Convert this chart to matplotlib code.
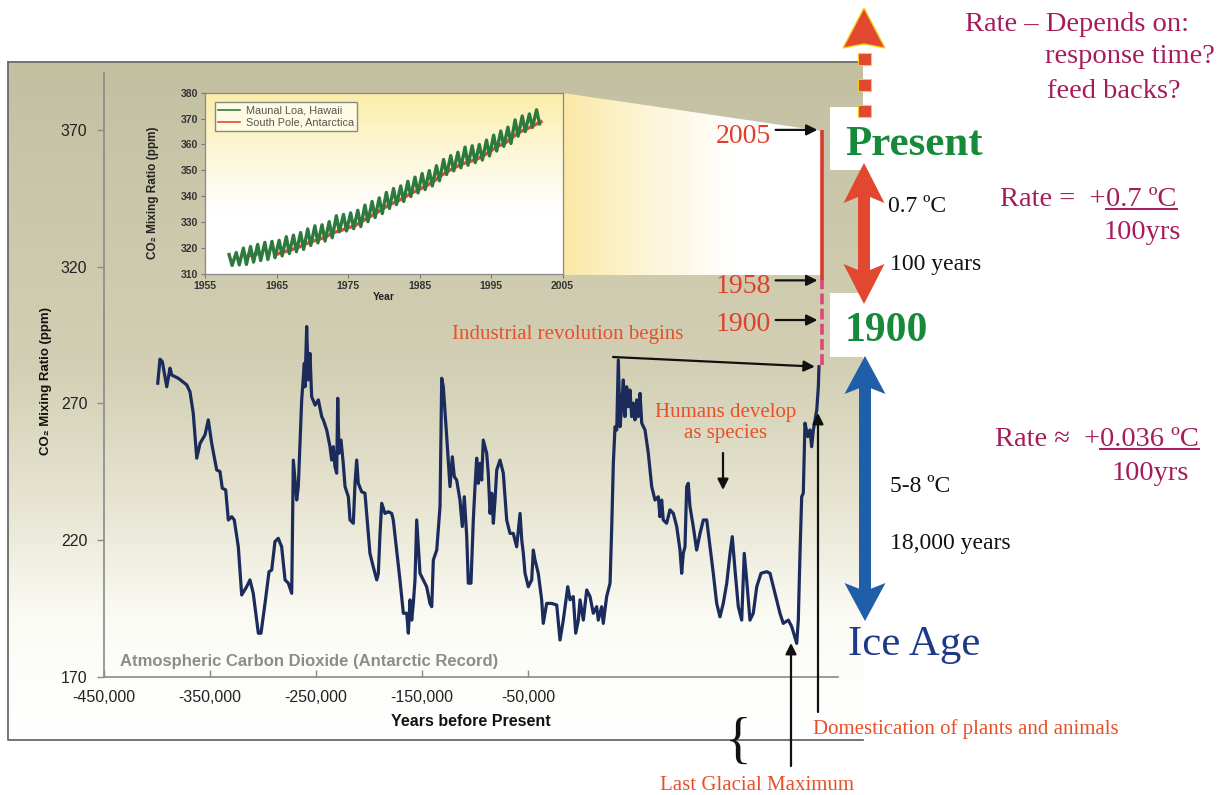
import numpy as np
import matplotlib
matplotlib.use('Agg')
import matplotlib.pyplot as plt
from matplotlib.patches import Rectangle, Polygon
from matplotlib.colors import LinearSegmentedColormap

# ---------------- data ----------------
# Antarctic (Vostok) CO2 record, x in thousands of years in the chart's labelled axis units
vostok_kyr = [-399.3, -397.2, -395.0, -390.8, -387.7, -386.1, -379.9, -372.0, -368.9, -365.8,
              -362.5, -359.4, -354.7, -351.6, -348.4, -343.7, -340.6, -338.4, -335.2, -332.7,
              -329.5, -327.1, -323.3, -320.1, -315.4, -312.3, -309.2, -304.4, -301.9, -298.1,
              -294.3, -291.8, -288.7, -285.6, -282.4, -279.2, -276.1, -272.9, -271.4, -268.2,
              -266.7, -263.5, -261.0, -260.4, -258.8, -257.3, -255.7, -254.1, -250.9,
              -247.8, -244.6, -243.1, -239.9, -236.8, -235.2, -233.7, -232.1, -230.5, -229.5,
              -228.3, -226.4, -224.3, -222.6, -219.5, -217.9, -214.8, -213.2, -211.6, -210.1,
              -206.9, -203.8, -200.7, -199.1, -196.0, -192.7, -191.2, -189.6, -188.0, -184.9,
              -181.8, -178.6, -177.1, -173.9, -170.8, -167.6, -164.4, -162.9, -161.3, -159.7,
              -158.2, -156.6, -155.0, -151.9, -148.8, -145.6, -142.5, -140.8, -139.3, -136.1,
              -133.0, -131.4, -129.9, -126.7, -123.6, -121.4, -119.5, -117.3, -114.2, -112.0,
              -110.1, -107.8, -106.3, -103.8, -101.6, -100.0, -98.4, -96.9, -95.3, -93.7, -92.2,
              -89.0, -87.5, -85.8, -84.2, -82.7, -81.1, -79.5, -76.4, -73.3, -70.1,
              -67.0, -63.9, -60.7, -57.5, -55.9, -54.4, -52.8, -49.7, -46.5, -45.0,
              -43.4, -40.3, -37.1, -35.6, -32.4, -27.6, -22.9, -19.8, -16.7, -12.5,
              -10.4, -7.3, -5.0, -2.5, -0.9, 2.2, 5.4, 8.5, 11.6, 14.8,
              16.3, 19.5, 21.0, 24.2, 27.4, 29.0, 30.5, 32.1, 33.7, 35.2,
              36.8, 38.4, 39.9, 41.5, 43.1, 44.6, 46.2, 47.8, 49.3, 50.9,
              52.5, 54.0, 55.7, 57.3, 60.4, 63.5, 66.7, 69.8,
              72.9, 74.5, 76.1, 77.6, 80.8, 83.9, 87.1, 90.3, 93.4, 95.0,
              96.5, 98.1, 99.7, 101.2, 102.8, 105.9, 109.1, 112.3, 115.4, 118.6,
              121.7, 124.8, 128.0, 131.1, 134.2, 137.5, 140.6, 142.7, 145.3, 148.4,
              151.6, 154.0, 156.3, 159.4, 162.5, 165.8, 169.8, 175.2, 178.3, 183.0,
              187.7, 190.8, 195.6, 198.8, 203.5, 205.0, 206.6, 208.2, 209.7, 211.3,
              213.9, 216.0, 217.6, 219.2, 220.8, 222.4, 223.9, 224.5]
vostok_co2 = [277.4, 286.2, 285.3, 276.1, 282.9, 280.4, 279.2, 276.8, 274.3, 266.4,
              250.0, 255.4, 258.5, 264.0, 255.4, 245.7, 245.1, 239.0, 238.4, 227.4,
              228.6, 227.4, 217.6, 200.0, 203.0, 205.5, 200.6, 186.0, 186.0, 196.9,
              208.5, 209.1, 219.5, 220.7, 217.6, 205.5, 204.3, 200.6, 249.3, 234.7,
              239.6, 271.3, 284.7, 276.1, 298.1, 278.6, 288.3, 272.5, 269.4,
              271.3, 265.2, 264.0, 260.3, 254.2, 249.3, 254.2, 246.9, 244.5, 271.9,
              251.8, 256.6, 248.1, 239.6, 235.9, 227.4, 226.2, 240.8, 249.3, 240.8,
              237.7, 237.2, 222.5, 215.2, 210.3, 205.5, 207.9, 222.5, 233.5, 229.8,
              230.4, 229.8, 227.4, 216.4, 205.5, 193.3, 193.3, 186.0, 198.2, 190.8,
              196.9, 205.5, 227.4, 207.9, 205.5, 203.0, 196.9, 195.7, 212.8, 216.4,
              232.3, 279.2, 276.1, 257.9, 239.6, 250.5, 243.2, 242.0, 234.7, 225.0,
              235.9, 221.3, 204.3, 204.3, 227.4, 239.6, 250.0, 240.8, 248.1, 242.0, 256.6,
              251.8, 244.5, 229.8, 237.2, 226.2, 234.7, 245.7, 249.3, 244.5, 227.4,
              222.5, 222.5, 217.6, 229.8, 220.1, 215.2, 207.9, 203.0, 205.5, 216.4,
              212.8, 207.9, 198.2, 189.6, 196.9, 196.9, 196.3, 183.5, 190.8, 203.0,
              198.2, 199.4, 186.0, 190.8, 198.2, 190.8, 201.8, 199.4, 193.3, 195.7,
              190.8, 195.7, 189.6, 199.4, 204.3, 225.0, 248.1, 261.5, 260.3, 285.9,
              261.5, 268.8, 278.6, 265.2, 276.1, 268.8, 274.9, 265.2, 270.1, 264.0,
              271.3, 265.2, 273.7, 262.8, 260.3, 251.8, 239.6, 234.7,
              235.9, 228.6, 234.7, 227.4, 226.2, 231.1, 229.8, 225.0, 216.4, 207.9,
              215.2, 217.6, 239.6, 240.8, 232.3, 225.0, 216.4, 222.5, 227.4, 227.4,
              217.6, 207.9, 196.9, 192.0, 196.9, 204.3, 215.2, 221.3, 209.1, 195.7,
              190.8, 215.2, 205.5, 190.8, 193.3, 203.0, 207.9, 208.5, 207.9, 200.6,
              193.3, 189.6, 190.8, 188.4, 182.3, 190.8, 215.2, 235.9, 237.2, 262.8,
              257.9, 260.3, 254.2, 260.3, 264.0, 267.6, 276.1, 283.4]

xtick_kyr = [-450, -350, -250, -150, -50]
xtick_labels = ['-450,000', '-350,000', '-250,000', '-150,000', '-50,000']
ytick_vals = [170, 220, 270, 320, 370]

# modern record drawn at "present" on the main chart
present_kyr = 227.0
modern_solid_co2 = [315.0, 370.0]     # 1958 - 2005
modern_dashed_co2 = [284.0, 315.0]    # 1900 - 1958
marker_years = ['2005', '1958', '1900']
marker_co2 = [370.0, 315.0, 300.5]

# inset: Mauna Loa (May peaks, October troughs) and South Pole
ml_years = list(range(1958, 2002))
ml_may_peak = [317.5, 318.3, 320.0, 320.6, 321.4, 322.2, 322.6, 323.0, 324.4, 325.0,
               326.0, 327.4, 328.6, 329.0, 330.2, 332.5, 333.0, 333.6, 334.6, 336.6,
               338.0, 339.4, 341.5, 343.0, 344.0, 345.8, 347.4, 348.8, 349.9, 351.8,
               354.2, 355.7, 357.0, 359.0, 359.5, 360.0, 361.7, 363.6, 365.2, 366.7,
               369.5, 371.0, 371.8, 373.4]
ml_oct_trough = [313.3, 313.5, 313.7, 314.6, 315.2, 315.6, 316.3, 317.0, 317.9, 318.6,
                 319.5, 321.0, 322.0, 322.7, 324.0, 326.3, 326.6, 327.5, 328.3, 330.2,
                 331.8, 333.3, 335.3, 336.8, 338.0, 339.9, 341.3, 342.6, 344.0, 346.0,
                 348.4, 349.8, 351.0, 352.0, 353.0, 354.0, 355.6, 357.5, 359.3, 360.4,
                 363.2, 365.0, 366.6, 368.0]
sp_years = [1961, 1962, 1963, 1964, 1965, 1966, 1967, 1968, 1969, 1970, 1971, 1972, 1973,
            1974, 1975, 1976, 1977, 1978, 1979, 1980, 1981, 1982, 1983, 1984, 1985, 1986,
            1987, 1988, 1989, 1990, 1991, 1992, 1993, 1994, 1995, 1996, 1997, 1998, 1999,
            2000, 2001, 2002]
sp_co2 = [317.0, 317.6, 318.2, np.nan, 317.6, 318.5, 319.3, 320.2, 321.5, 322.6, 323.4,
          324.5, 326.0, 326.8, 327.8, 328.7, 330.4, 332.0, 333.6, 335.5, 337.0, 338.2,
          339.8, 341.4, 342.7, 344.1, 345.8, 348.0, 349.7, 351.2, 352.5, 353.4, 354.3,
          355.8, 357.6, 359.4, 360.6, 362.8, 364.8, 366.0, 367.4, 368.8]
inset_xticks = [1955, 1965, 1975, 1985, 1995, 2005]
inset_yticks = [310, 320, 330, 340, 350, 360, 370, 380]

# ---------------- styling ----------------
SERIF = ['Liberation Serif', 'DejaVu Serif']
SANS = ['Liberation Sans', 'DejaVu Sans']
NARROW = ['Liberation Sans Narrow', 'Liberation Sans', 'DejaVu Sans']
ORANGE = '#e8502a'
RED = '#e0402a'
MAGENTA = '#a51c5a'
GREEN = '#168a3a'
NAVY = '#1d3a8a'

W, H = 1225, 795
fig = plt.figure(figsize=(W / 100, H / 100), dpi=100)
fig.patch.set_facecolor('white')


def frac(x0, y0, x1, y1):
    return [x0 / W, 1 - y1 / H, (x1 - x0) / W, (y1 - y0) / H]


def double_arrow(x, y_top, y_bot, sw, hw, hl, color):
    pts = [(x, y_top), (x + hw / 2, y_top + hl), (x + sw / 2, y_top + hl * 0.85),
           (x + sw / 2, y_bot - hl * 0.85), (x + hw / 2, y_bot - hl), (x, y_bot),
           (x - hw / 2, y_bot - hl), (x - sw / 2, y_bot - hl * 0.85),
           (x - sw / 2, y_top + hl * 0.85), (x - hw / 2, y_top + hl)]
    return Polygon(pts, closed=True, fc=color, ec='none')


# background panel
bg = fig.add_axes([0, 0, 1, 1], zorder=0)
panel_cmap = LinearSegmentedColormap.from_list(
    'panel', [(0, '#c3c0a2'), (0.45, '#d2cfb4'), (0.68, '#eae8d6'), (0.82, '#fbfbf5'), (1, '#ffffff')])
bg.imshow(np.linspace(0, 1, 256).reshape(-1, 1), cmap=panel_cmap, extent=(8, 863, 740, 62),
          aspect='auto', interpolation='bilinear', zorder=0)
trap = Polygon([(563, 93), (822, 131), (822, 275), (563, 275)], closed=True,
               facecolor='none', edgecolor='none')
bg.add_patch(trap)
trap_cmap = LinearSegmentedColormap.from_list('trap', ['#fbe8a6', '#fdf5d8', '#ffffff', '#ffffff'])
tim = bg.imshow(np.linspace(0, 1, 256).reshape(1, -1), cmap=trap_cmap, extent=(563, 822, 275, 93),
                aspect='auto', interpolation='bilinear', zorder=1)
tim.set_clip_path(trap)
bg.add_patch(Rectangle((830, 107), 170, 63, fc='white', ec='none', zorder=2))
bg.add_patch(Rectangle((830, 293), 120, 64, fc='white', ec='none', zorder=2))
bg.plot([8, 8, 863], [62, 740, 740], color='#6a6a6a', lw=1.3, zorder=3)
bg.plot([8, 863], [62, 62], color='#6a6a6a', lw=1.3, zorder=3)
bg.set_xlim(0, W)
bg.set_ylim(H, 0)
bg.axis('off')

# main chart
ax = fig.add_axes(frac(104, 73, 838, 677), zorder=1)
ax.patch.set_alpha(0)
ax.plot(vostok_kyr, vostok_co2, color='#1b2b5c', lw=2.3, solid_joinstyle='round')
ax.plot([present_kyr, present_kyr], modern_solid_co2, color='#d83a2c', lw=2.6, solid_capstyle='butt')
ax.plot([present_kyr, present_kyr], modern_dashed_co2, color='#e0457a', lw=2.6, dashes=(3, 1.2))
ax.set_xlim(-450, 242.45)
ax.set_ylim(170, 390.8)
for s in ['top', 'right']:
    ax.spines[s].set_visible(False)
for s in ['left', 'bottom']:
    ax.spines[s].set_color('#8a8a8a')
    ax.spines[s].set_linewidth(1.2)
ax.set_xticks(xtick_kyr)
ax.set_xticklabels(xtick_labels, fontfamily=SANS, fontsize=11.5, color='#222222')
ax.set_yticks(ytick_vals)
ax.set_yticklabels([str(v) for v in ytick_vals], fontfamily=SANS, fontsize=11.5, color='#222222')
ax.tick_params(axis='y', direction='out', length=5, width=1, color='#8a8a8a', pad=7)
ax.tick_params(axis='x', direction='in', length=5, width=1, color='#8a8a8a', pad=9)
ax.set_xlabel('Years before Present', fontfamily=SANS, fontsize=11.5, fontweight='bold',
              color='#111111', labelpad=7)
ax.set_ylabel('CO\u2082 Mixing Ratio (ppm)', fontfamily=NARROW, fontsize=9.5, fontweight='bold',
              color='#111111')
ax.yaxis.set_label_coords(-0.071, 0.49)

# inset chart
ax_in = fig.add_axes(frac(205, 92.7, 562.5, 274), zorder=2)
inset_cmap = LinearSegmentedColormap.from_list('inset', ['#fbeea8', '#fdf6d8', '#ffffff', '#ffffff'])
ax_in.imshow(np.linspace(0, 1, 256).reshape(-1, 1), cmap=inset_cmap, extent=(1955, 2005, 310, 380),
             aspect='auto', interpolation='bilinear', zorder=0)
ml_t, ml_v = [], []
for yr, pk, tr in zip(ml_years, ml_may_peak, ml_oct_trough):
    ml_t += [yr + 0.37, yr + 0.79]
    ml_v += [pk, tr]
ax_in.plot(ml_t, ml_v, color='#2d7a3e', lw=2.4, label='Maunal Loa, Hawaii', zorder=3)
ax_in.plot(sp_years, sp_co2, color='#e5483a', lw=2.4, label='South Pole, Antarctica', zorder=2)
ax_in.set_xlim(1955, 2005)
ax_in.set_ylim(310, 380)
ax_in.set_xticks(inset_xticks)
ax_in.set_yticks(inset_yticks)
ax_in.tick_params(labelsize=7.5, length=3, color='#777777', pad=2)
for lab in ax_in.get_xticklabels() + ax_in.get_yticklabels():
    lab.set_fontfamily(SANS)
    lab.set_fontweight('bold')
    lab.set_color('#333333')
for s in ax_in.spines.values():
    s.set_color('#888888')
    s.set_linewidth(0.9)
ax_in.set_xlabel('Year', fontfamily=SANS, fontsize=7.5, fontweight='bold', color='#222222', labelpad=1)
ax_in.set_ylabel('CO\u2082 Mixing Ratio (ppm)', fontfamily=NARROW, fontsize=8.5, fontweight='bold',
                 color='#222222')
ax_in.yaxis.set_label_coords(-0.13, 0.45)
leg = ax_in.legend(loc='upper left', bbox_to_anchor=(0.012, 0.978), frameon=True,
                   fancybox=False, edgecolor='#888888', facecolor='#fffbe2', framealpha=1,
                   borderpad=0.35, labelspacing=0.15, handlelength=2.0, handletextpad=0.5,
                   prop={'family': SANS, 'size': 7.8})
for t in leg.get_texts():
    t.set_color('#555555')
for h in leg.get_lines():
    h.set_linewidth(1.2)

# arrows pointing at data
arrow_kw = dict(arrowstyle='-|>', color='#111111', lw=1.6, mutation_scale=16)
for val in marker_co2:
    ax.annotate('', xy=(present_kyr, val), xytext=(-46, 0), textcoords='offset pixels',
                arrowprops=dict(shrinkA=0, shrinkB=3, **arrow_kw))
ax.annotate('', xy=(vostok_kyr[-1], vostok_co2[-1]), xytext=(613, H - 357), textcoords='figure pixels',
            arrowprops=dict(shrinkA=0, shrinkB=3, **arrow_kw))

# overlay (annotation layer)
ov = fig.add_axes([0, 0, 1, 1], zorder=3)
ov.patch.set_alpha(0)
ov.set_xlim(0, W)
ov.set_ylim(H, 0)
ov.axis('off')

for lab, ty in zip(marker_years, [143, 293, 331]):
    ov.text(771, ty, lab, ha='right', va='baseline', fontfamily=SERIF, fontsize=20, color=RED)

ov.text(120, 666, 'Atmospheric Carbon Dioxide (Antarctic Record)', fontfamily=SANS, fontsize=12,
        fontweight='bold', color='#8c8c8c', va='baseline')
ov.text(452, 339, 'Industrial revolution begins', fontfamily=SERIF, fontsize=15, color=ORANGE,
        va='baseline')
ov.text(726, 417, 'Humans develop', fontfamily=SERIF, fontsize=15, color=ORANGE, va='baseline', ha='center')
ov.text(726, 438, 'as species', fontfamily=SERIF, fontsize=15, color=ORANGE, va='baseline', ha='center')
ov.annotate('', xy=(723, 490), xytext=(723, 453), arrowprops=dict(shrinkA=0, shrinkB=0, **arrow_kw))
ov.annotate('', xy=(791, 643), xytext=(791, 766), arrowprops=dict(shrinkA=0, shrinkB=0, **arrow_kw))
ov.annotate('', xy=(818, 413), xytext=(818, 712), arrowprops=dict(shrinkA=0, shrinkB=0, **arrow_kw))
ov.text(813, 734, 'Domestication of plants and animals', fontfamily=SERIF, fontsize=15, color=ORANGE,
        va='baseline')
ov.text(660, 790, 'Last Glacial Maximum', fontfamily=SERIF, fontsize=15, color=ORANGE, va='baseline')
ov.text(738, 744, '{', fontfamily=SERIF, fontsize=40, color='#111111', ha='center', va='center',
        fontweight='light')

# big arrows on the right
red_arrow = '#e2472f'
ov.add_patch(Polygon([(843, 48), (864, 44), (885, 48), (864, 8)], closed=True, fc=red_arrow,
                     ec='#f2cf1a', lw=1.0))
for yy in [53, 79, 105]:
    ov.add_patch(Rectangle((857.5, yy), 13, 12, fc=red_arrow, ec='#f2cf1a', lw=0.8))
ov.add_patch(double_arrow(864, 163, 304, 12, 41, 40, red_arrow))
ov.add_patch(double_arrow(865, 356, 621, 12, 41, 38, '#1f5ea8'))

ov.text(845, 155, 'Present', fontfamily=SERIF, fontsize=31, fontweight='bold', color=GREEN, va='baseline')
ov.text(845, 341, '1900', fontfamily=SERIF, fontsize=30, fontweight='bold', color=GREEN, va='baseline')
ov.text(848, 655, 'Ice Age', fontfamily=SERIF, fontsize=31, color=NAVY, va='baseline')
ov.text(888, 212, '0.7 \u00baC', fontfamily=SERIF, fontsize=17, color='#111111', va='baseline')
ov.text(890, 270, '100 years', fontfamily=SERIF, fontsize=17, color='#111111', va='baseline')
ov.text(890, 492, '5-8 \u00baC', fontfamily=SERIF, fontsize=17, color='#111111', va='baseline')
ov.text(890, 549, '18,000 years', fontfamily=SERIF, fontsize=17, color='#111111', va='baseline')

ov.text(965, 31, 'Rate \u2013 Depends on:', fontfamily=SERIF, fontsize=20.5, color=MAGENTA, va='baseline')
ov.text(1045, 63, 'response time?', fontfamily=SERIF, fontsize=20.5, color=MAGENTA, va='baseline')
ov.text(1047, 98, 'feed backs?', fontfamily=SERIF, fontsize=20.5, color=MAGENTA, va='baseline')

ov.text(1106, 206, 'Rate =  +', fontfamily=SERIF, fontsize=20.5, color=MAGENTA, va='baseline', ha='right')
t1 = ov.text(1106, 206, '0.7 \u00baC', fontfamily=SERIF, fontsize=20.5, color=MAGENTA, va='baseline')
ov.text(1104, 239, '100yrs', fontfamily=SERIF, fontsize=20.5, color=MAGENTA, va='baseline')
ov.text(1100, 446, 'Rate \u2248  +', fontfamily=SERIF, fontsize=20.5, color=MAGENTA, va='baseline', ha='right')
t2 = ov.text(1100, 446, '0.036 \u00baC', fontfamily=SERIF, fontsize=20.5, color=MAGENTA, va='baseline')
ov.text(1112, 480, '100yrs', fontfamily=SERIF, fontsize=20.5, color=MAGENTA, va='baseline')

fig.canvas.draw()
inv = ov.transData.inverted()
for t, base in [(t1, 206), (t2, 446)]:
    bb = t.get_window_extent()
    (xa, _), (xb, _) = inv.transform([[bb.x0, bb.y0], [bb.x1, bb.y1]])
    ov.plot([xa, xb], [base + 3, base + 3], color=MAGENTA, lw=1.4)

fig.savefig('out.png', dpi=100, facecolor='white')
